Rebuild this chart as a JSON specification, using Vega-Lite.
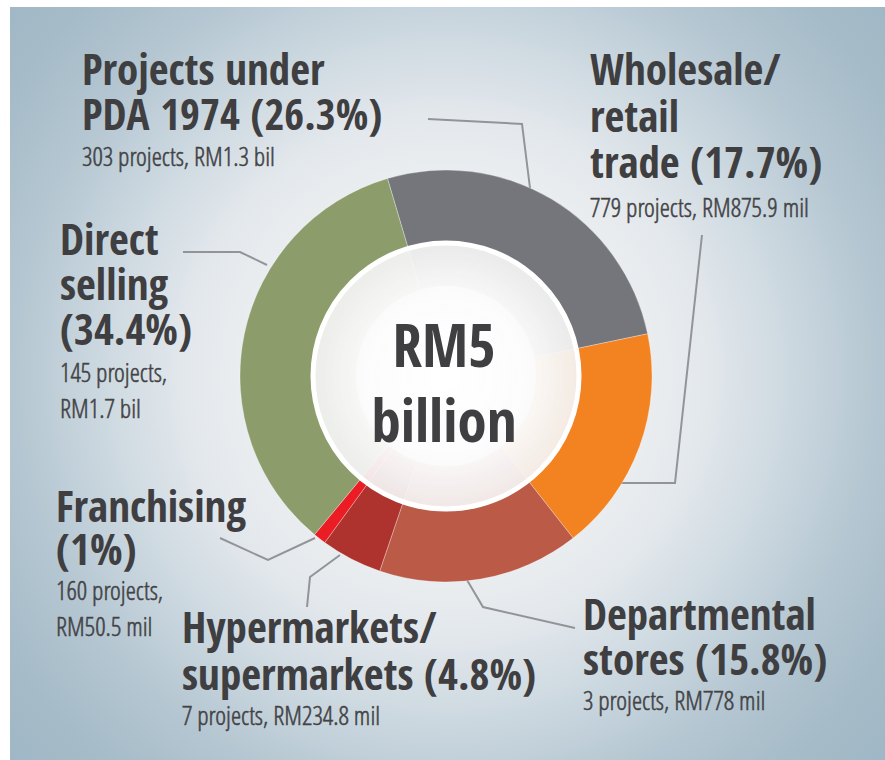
{
  "$schema": "https://vega.github.io/schema/vega-lite/v6.json",
  "width": 875,
  "height": 753,
  "autosize": {"type": "none"},
  "padding": {"left": 10, "top": 7, "right": 0, "bottom": 0},
  "background": "#ffffff",
  "view": {
    "stroke": null,
    "fill": {
      "gradient": "radial",
      "x1": 0.498, "y1": 0.49, "r1": 0,
      "x2": 0.498, "y2": 0.49, "r2": 0.66,
      "stops": [
        {"offset": 0, "color": "#f5f6f7"},
        {"offset": 0.3, "color": "#eef0f2"},
        {"offset": 0.45, "color": "#e3e8ec"},
        {"offset": 0.6, "color": "#ccd8e0"},
        {"offset": 0.75, "color": "#b4c6d1"},
        {"offset": 0.9, "color": "#a5bbc8"},
        {"offset": 1, "color": "#a0b7c5"}
      ]
    }
  },
  "config": {"view": {"stroke": null}},
  "datasets": {
    "slices": [
      {"category": "Projects under PDA 1974", "pct": 26.3, "order": 1, "projects": 303, "amount": "RM1.3 bil"},
      {"category": "Wholesale/retail trade", "pct": 17.7, "order": 2, "projects": 779, "amount": "RM875.9 mil"},
      {"category": "Departmental stores", "pct": 15.8, "order": 3, "projects": 3, "amount": "RM778 mil"},
      {"category": "Hypermarkets/supermarkets", "pct": 4.8, "order": 4, "projects": 7, "amount": "RM234.8 mil"},
      {"category": "Franchising", "pct": 1.0, "order": 5, "projects": 160, "amount": "RM50.5 mil"},
      {"category": "Direct selling", "pct": 34.4, "order": 6, "projects": 145, "amount": "RM1.7 bil"}
    ],
    "labels": [
      {"text": "Projects under", "x": 82, "y": 85, "kind": "title"},
      {"text": "PDA 1974 (26.3%)", "x": 82, "y": 130, "kind": "title"},
      {"text": "303 projects, RM1.3 bil", "x": 82, "y": 166, "kind": "detail"},
      {"text": "Wholesale/", "x": 590, "y": 85, "kind": "title"},
      {"text": "retail", "x": 590, "y": 132, "kind": "title"},
      {"text": "trade (17.7%)", "x": 590, "y": 178, "kind": "title"},
      {"text": "779 projects, RM875.9 mil", "x": 590, "y": 217, "kind": "detail"},
      {"text": "Direct", "x": 60, "y": 255, "kind": "title"},
      {"text": "selling", "x": 60, "y": 300, "kind": "title"},
      {"text": "(34.4%)", "x": 60, "y": 345, "kind": "title"},
      {"text": "145 projects,", "x": 60, "y": 382, "kind": "detail"},
      {"text": "RM1.7 bil", "x": 60, "y": 418, "kind": "detail"},
      {"text": "Franchising", "x": 56, "y": 522, "kind": "title"},
      {"text": "(1%)", "x": 56, "y": 565, "kind": "title"},
      {"text": "160 projects,", "x": 56, "y": 600, "kind": "detail"},
      {"text": "RM50.5 mil", "x": 56, "y": 636, "kind": "detail"},
      {"text": "Hypermarkets/", "x": 182, "y": 643, "kind": "title"},
      {"text": "supermarkets (4.8%)", "x": 182, "y": 690, "kind": "title"},
      {"text": "7 projects, RM234.8 mil", "x": 182, "y": 725, "kind": "detail"},
      {"text": "Departmental", "x": 583, "y": 630, "kind": "title"},
      {"text": "stores (15.8%)", "x": 583, "y": 675, "kind": "title"},
      {"text": "3 projects, RM778 mil", "x": 583, "y": 710, "kind": "detail"},
      {"text": "RM5", "x": 444, "y": 367, "kind": "center"},
      {"text": "billion", "x": 444, "y": 442, "kind": "center"}
    ],
    "leaders": [
      {"id": "pda", "seq": 1, "x": 428, "y": 119},
      {"id": "pda", "seq": 2, "x": 522, "y": 124},
      {"id": "pda", "seq": 3, "x": 530, "y": 188},
      {"id": "whole", "seq": 1, "x": 702, "y": 235},
      {"id": "whole", "seq": 2, "x": 675, "y": 483},
      {"id": "whole", "seq": 3, "x": 620, "y": 483},
      {"id": "direct", "seq": 1, "x": 183, "y": 252},
      {"id": "direct", "seq": 2, "x": 240, "y": 252},
      {"id": "direct", "seq": 3, "x": 267, "y": 265},
      {"id": "fran", "seq": 1, "x": 220, "y": 538},
      {"id": "fran", "seq": 2, "x": 268, "y": 560},
      {"id": "fran", "seq": 3, "x": 315, "y": 538},
      {"id": "hyper", "seq": 1, "x": 307, "y": 607},
      {"id": "hyper", "seq": 2, "x": 310, "y": 577},
      {"id": "hyper", "seq": 3, "x": 340, "y": 555},
      {"id": "dept", "seq": 1, "x": 467, "y": 580},
      {"id": "dept", "seq": 2, "x": 483, "y": 607},
      {"id": "dept", "seq": 3, "x": 575, "y": 628}
    ]
  },
  "layer": [
    {
      "data": {"name": "leaders"},
      "mark": {"type": "line", "color": "#939498", "strokeWidth": 2, "interpolate": "linear"},
      "encoding": {
        "x": {"field": "x", "type": "quantitative", "scale": {"domain": [10, 885], "nice": false, "zero": false}, "axis": null},
        "y": {"field": "y", "type": "quantitative", "scale": {"domain": [7, 760], "nice": false, "zero": false, "reverse": true}, "axis": null},
        "detail": {"field": "id", "type": "nominal"},
        "order": {"field": "seq", "type": "quantitative"}
      }
    },
    {
      "data": {"name": "slices"},
      "mark": {"type": "arc", "outerRadius": 206, "innerRadius": 90, "stroke": "#ffffff", "strokeWidth": 0.6, "strokeOpacity": 0.5},
      "encoding": {
        "theta": {"field": "pct", "type": "quantitative", "stack": true, "scale": {"domain": [0, 100], "range": [-0.288, 5.995]}},
        "order": {"field": "order", "type": "quantitative"},
        "color": {
          "field": "category", "type": "nominal", "legend": null,
          "scale": {
            "domain": ["Projects under PDA 1974", "Wholesale/retail trade", "Departmental stores", "Hypermarkets/supermarkets", "Franchising", "Direct selling"],
            "range": ["#75767b", "#f38321", "#bc5a48", "#ae322e", "#ec1c24", "#8c9d6b"]
          }
        },
        "x": {"datum": 446, "type": "quantitative", "scale": {"domain": [10, 885], "nice": false, "zero": false}, "axis": null},
        "y": {"datum": 376, "type": "quantitative", "scale": {"domain": [7, 760], "nice": false, "zero": false, "reverse": true}, "axis": null}
      }
    },
    {
      "data": {"values": [{"total": "RM5 billion"}]},
      "mark": {
        "type": "arc", "theta": 0, "theta2": 6.2832, "outerRadius": 133, "innerRadius": 0,
        "stroke": "#ffffff", "strokeWidth": 5,
        "fill": {
          "gradient": "radial",
          "x1": 0.5, "y1": 0.5, "r1": 0, "x2": 0.5, "y2": 0.5, "r2": 0.5,
          "stops": [
            {"offset": 0, "color": "rgba(255,255,255,1)"},
            {"offset": 0.6, "color": "rgba(252,252,252,0.98)"},
            {"offset": 1, "color": "rgba(244,244,244,0.92)"}
          ]
        }
      },
      "encoding": {
        "x": {"datum": 446, "type": "quantitative", "scale": {"domain": [10, 885], "nice": false, "zero": false}, "axis": null},
        "y": {"datum": 376, "type": "quantitative", "scale": {"domain": [7, 760], "nice": false, "zero": false, "reverse": true}, "axis": null}
      }
    },
    {
      "data": {"name": "labels"},
      "transform": [{"filter": "datum.kind === 'title'"}],
      "mark": {"type": "text", "align": "left", "baseline": "alphabetic", "font": "'Open Sans Condensed', 'DejaVu Sans Condensed', sans-serif", "fontWeight": "bold", "fontSize": 43, "color": "#3f3e41"},
      "encoding": {
        "x": {"field": "x", "type": "quantitative", "scale": {"domain": [10, 885], "nice": false, "zero": false}, "axis": null},
        "y": {"field": "y", "type": "quantitative", "scale": {"domain": [7, 760], "nice": false, "zero": false, "reverse": true}, "axis": null},
        "text": {"field": "text"}
      }
    },
    {
      "data": {"name": "labels"},
      "transform": [{"filter": "datum.kind === 'detail'"}],
      "mark": {"type": "text", "align": "left", "baseline": "alphabetic", "font": "'Open Sans Condensed Light', 'Roboto', sans-serif", "fontWeight": 300, "fontSize": 26, "color": "#434245", "stroke": "#434245", "strokeWidth": 0.5},
      "encoding": {
        "x": {"field": "x", "type": "quantitative", "scale": {"domain": [10, 885], "nice": false, "zero": false}, "axis": null},
        "y": {"field": "y", "type": "quantitative", "scale": {"domain": [7, 760], "nice": false, "zero": false, "reverse": true}, "axis": null},
        "text": {"field": "text"}
      }
    },
    {
      "data": {"name": "labels"},
      "transform": [{"filter": "datum.kind === 'center'"}],
      "mark": {"type": "text", "align": "center", "baseline": "alphabetic", "font": "'Open Sans Condensed', 'DejaVu Sans Condensed', sans-serif", "fontWeight": "bold", "fontSize": 59, "color": "#3f3e41"},
      "encoding": {
        "x": {"field": "x", "type": "quantitative", "scale": {"domain": [10, 885], "nice": false, "zero": false}, "axis": null},
        "y": {"field": "y", "type": "quantitative", "scale": {"domain": [7, 760], "nice": false, "zero": false, "reverse": true}, "axis": null},
        "text": {"field": "text"}
      }
    }
  ]
}
